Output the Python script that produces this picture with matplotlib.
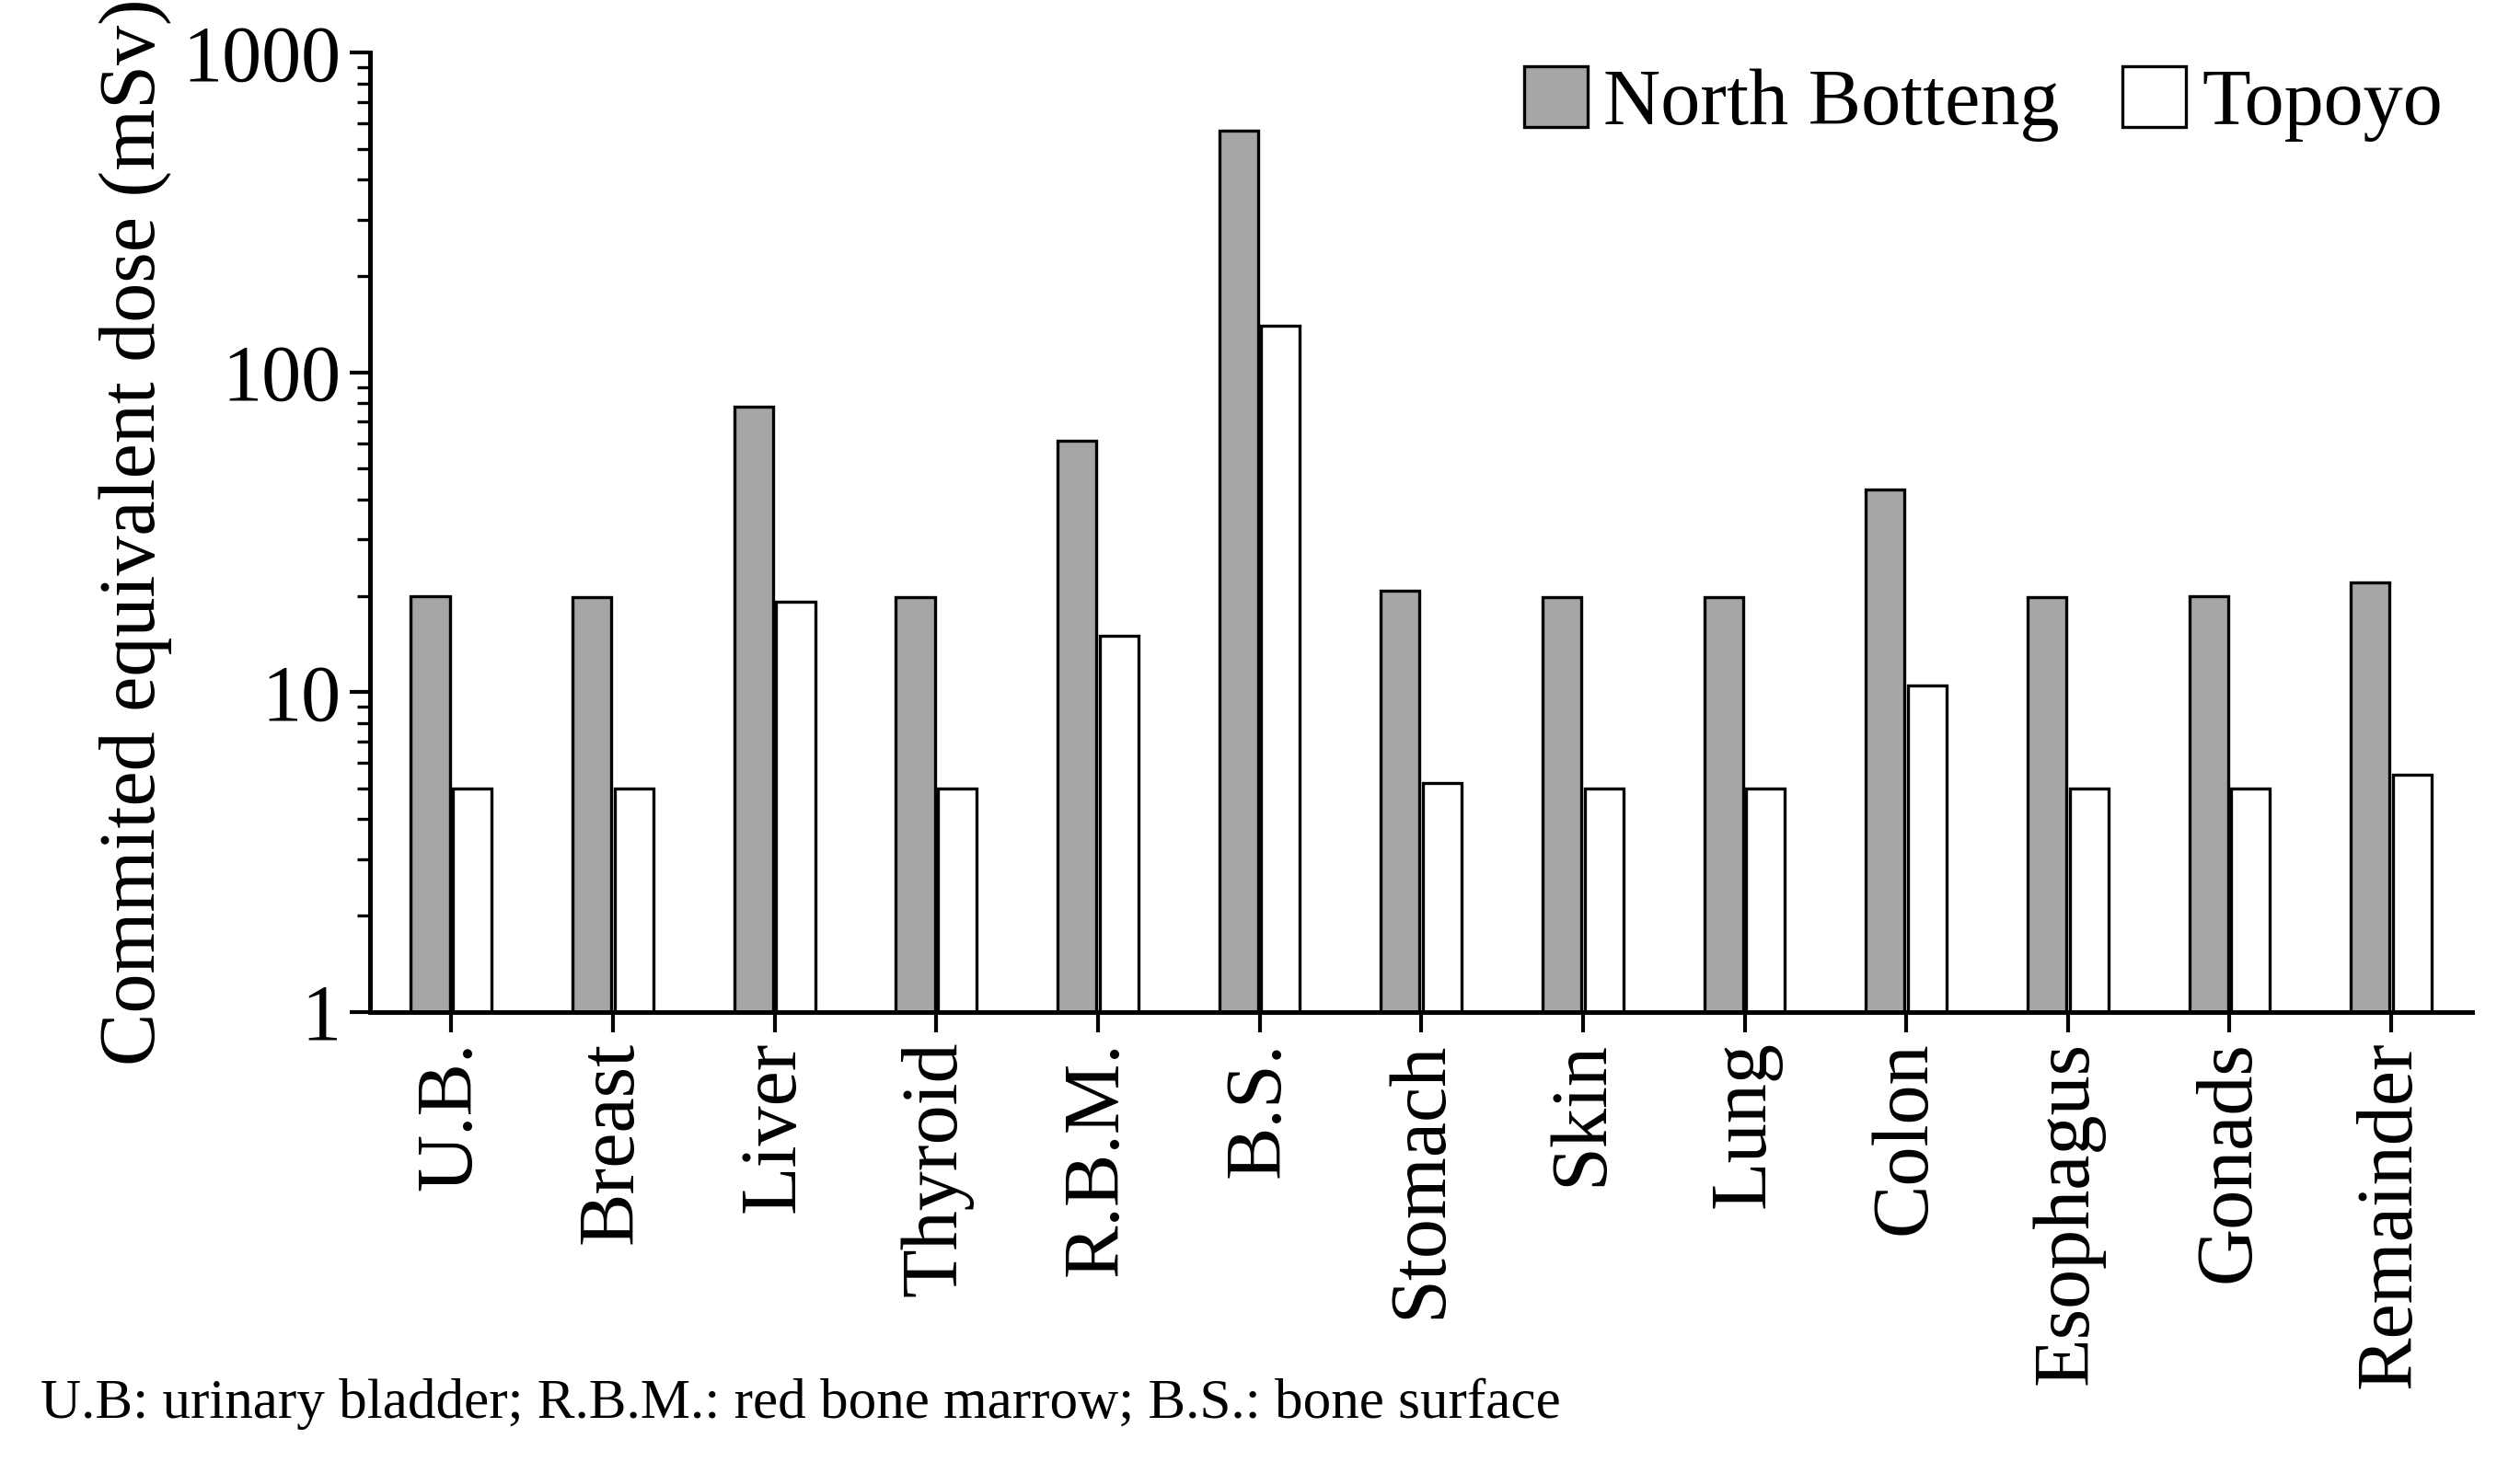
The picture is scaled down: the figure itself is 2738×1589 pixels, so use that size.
import matplotlib
matplotlib.use("Agg")
import matplotlib.pyplot as plt
import numpy as np
from matplotlib.ticker import LogLocator, NullFormatter, FixedFormatter, FixedLocator

categories = ["U.B.", "Breast", "Liver", "Thyroid", "R.B.M.", "B.S.", "Stomach", "Skin",
              "Lung", "Colon", "Esophagus", "Gonads", "Remainder"]
north_botteng = [20, 19.8, 78, 19.8, 61, 570, 20.8, 19.8, 19.8, 43, 19.8, 20, 22]
topoyo = [5, 5, 19.2, 5, 15, 140, 5.2, 5, 5, 10.5, 5, 5, 5.5]

plt.rcParams['font.family'] = ['Liberation Serif', 'DejaVu Serif']
fig = plt.figure(figsize=(13.69, 7.945), dpi=200)
ax = fig.add_axes([0.147, 0.308, 0.834, 0.656])
x = np.arange(len(categories))
w = 0.24
ax.bar(x - w/2 - 0.01, north_botteng, w, color="#a6a6a6", edgecolor="black", lw=1.2, label="North Botteng")
ax.bar(x + w/2 + 0.01, topoyo, w, color="white", edgecolor="black", lw=1.2, label="Topoyo")
ax.set_yscale("log")
ax.set_ylim(1, 1000)
ax.set_xlim(-0.5, len(categories) - 0.5)
ax.yaxis.set_major_locator(FixedLocator([1, 10, 100, 1000]))
ax.yaxis.set_major_formatter(FixedFormatter(["1", "10", "100", "1000"]))
ax.yaxis.set_minor_locator(LogLocator(base=10, subs=np.arange(2, 10)))
ax.yaxis.set_minor_formatter(NullFormatter())
ax.tick_params(axis='y', which='major', labelsize=31, length=8, width=1.5)
ax.tick_params(axis='y', which='minor', length=5, width=1.2)
ax.set_xticks(x)
ax.set_xticklabels(categories, rotation=90, fontsize=31)
ax.tick_params(axis='x', length=8, width=1.5)
for s in ["top", "right"]:
    ax.spines[s].set_visible(False)
for s in ["left", "bottom"]:
    ax.spines[s].set_linewidth(1.8)
ax.set_ylabel("Commited equivalent dose (mSv)", fontsize=31)
ax.legend(loc="upper right", bbox_to_anchor=(1.02, 1.06), ncol=2, frameon=False, fontsize=31,
          handlelength=0.8, handleheight=0.8, handletextpad=0.2, columnspacing=0.8)
fig.text(0.016, 0.03, "U.B: urinary bladder; R.B.M.: red bone marrow; B.S.: bone surface", fontsize=22)
fig.savefig("out.png", dpi=200)
